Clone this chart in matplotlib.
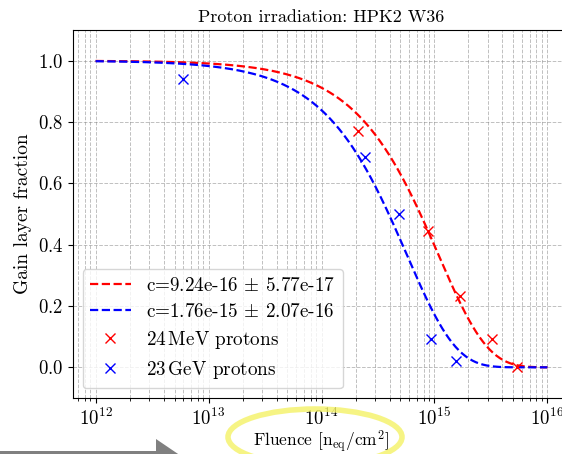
import numpy as np
import matplotlib.pyplot as plt
from matplotlib.patches import Ellipse, FancyArrow

plt.rcParams['font.family'] = 'serif'
plt.rcParams['font.serif'] = ['cmr10']
plt.rcParams['mathtext.fontset'] = 'cm'
plt.rcParams['axes.formatter.use_mathtext'] = True
plt.rcParams['axes.unicode_minus'] = False

# fit results
c_24mev = 9.24e-16
c_24mev_err = 5.77e-17
c_23gev = 1.76e-15
c_23gev_err = 2.07e-16

# measured points
fluence_24mev = [2.1e14, 8.7e14, 1.68e15, 3.2e15, 5.4e15]
frac_24mev = [0.772, 0.443, 0.231, 0.094, 0.0]
fluence_23gev = [6.0e12, 2.45e14, 4.9e14, 9.4e14, 1.56e15]
frac_23gev = [0.941, 0.687, 0.50, 0.091, 0.02]

W, H = 562, 454
fig = plt.figure(figsize=(W / 100, H / 100), dpi=100)
ax = fig.add_axes([73 / W, 56 / H, 497 / W, 368 / H])

phi = np.logspace(12, 16, 400)
ax.plot(phi, np.exp(-c_24mev * phi), 'r--', lw=1.6,
        label=f'c={c_24mev:.2e} $\\pm$ {c_24mev_err:.2e}')
ax.plot(phi, np.exp(-c_23gev * phi), 'b--', lw=1.6,
        label=f'c={c_23gev:.2e} $\\pm$ {c_23gev_err:.2e}')
ax.plot(fluence_24mev, frac_24mev, 'rx', ms=7, label='24$\\,$MeV protons')
ax.plot(fluence_23gev, frac_23gev, 'bx', ms=7, label='23$\\,$GeV protons')

ax.set_xscale('log')
ax.set_xlim(10**11.8, 10**16.2)
ax.set_ylim(-0.1, 1.1)
ax.grid(True, which='both', ls='--', color='gray', alpha=0.5, lw=0.7)
ax.tick_params(labelsize=13.5)
ax.set_xlabel(r'Fluence $[\mathrm{n_{eq}/cm^2}]$', fontsize=12.5, labelpad=0)
ax.set_ylabel('Gain layer fraction', fontsize=14)
ax.set_title('Proton irradiation: HPK2 W36', fontsize=13)
ax.legend(loc='lower left', fontsize=13.8, handlelength=2.1,
          labelspacing=0.42)
ax.spines['right'].set_visible(False)

# annotation marks on the figure
fig.patches.append(Ellipse((315 / W, (H - 437) / H), 174 / W, 56 / H,
                           transform=fig.transFigure, fill=False,
                           ec='#f4f266', lw=4, alpha=0.8))
fig.patches.append(FancyArrow(0, (H - 458) / H, 184 / W, 0, width=14 / H,
                              head_width=38 / H, head_length=28 / W,
                              length_includes_head=True,
                              transform=fig.transFigure, color='gray', lw=0))

fig.savefig('out.png', dpi=100)
